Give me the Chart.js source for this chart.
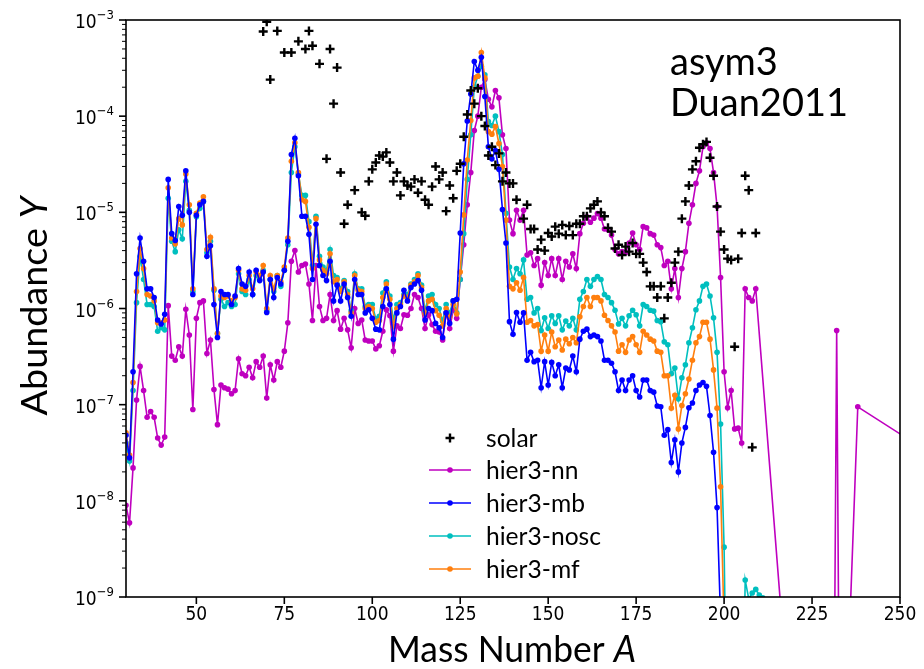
<!DOCTYPE html>
<html>
<head>
<meta charset="utf-8">
<title>asym3 Duan2011</title>
<script src="https://cdn.jsdelivr.net/npm/chart.js@4.4.1/dist/chart.umd.min.js"></script>
<style>
	html, body { margin: 0; padding: 0; background: #fff; }
	#wrap { width: 924px; height: 669px; }
</style>
</head>
<body>
<div id="wrap"><canvas id="abundance" width="924" height="669"></canvas></div>
<script>

// Axis ranges and tick labels
const xMin = 30, xMax = 250;
const xTicks = [50, 75, 100, 125, 150, 175, 200, 225, 250];
const yMin = 1e-9, yMax = 1e-3;
const yTicks = [1e-9, 1e-8, 1e-7, 1e-6, 1e-5, 1e-4, 1e-3];
const yTickExps = ['\u22129', '\u22128', '\u22127', '\u22126', '\u22125', '\u22124', '\u22123'];
const yMinorSteps = [2, 3, 4, 5, 6, 7, 8, 9];

// Solar abundances (only the points that fall inside the plot)
const solarA = [69, 70, 71, 73, 75, 77, 79, 81, 82, 83,
	85, 87, 88, 89, 90, 91, 92, 93, 95, 97,
	98, 99, 100, 101, 102, 103, 104, 105, 106, 107,
	108, 109, 110, 111, 112, 113, 114, 115, 116, 117,
	118, 119, 120, 121, 122, 123, 124, 125, 126, 127,
	128, 129, 130, 131, 132, 133, 134, 135, 136, 137,
	138, 139, 140, 141, 143, 144, 145, 146, 147, 148,
	149, 150, 151, 152, 153, 154, 155, 156, 157, 158,
	159, 160, 161, 162, 163, 164, 165, 166, 167, 168,
	169, 170, 171, 172, 173, 174, 175, 176, 177, 178,
	179, 180, 181, 182, 183, 184, 185, 186, 187, 188,
	189, 190, 191, 192, 193, 194, 195, 196, 197, 198,
	199, 200, 201, 202, 203, 204, 205, 206, 207, 208,
	209];
const solarY = [7.6e-4, 9.6e-4, 2.4e-4, 7.7e-4, 4.6e-4, 4.6e-4, 6.0e-4, 5.0e-4, 7.7e-4, 5.4e-4,
	3.5e-4, 3.6e-5, 5.0e-4, 1.35e-4, 3.2e-4, 2.6e-5, 7.6e-6, 1.2e-5, 1.7e-5, 1.0e-5,
	9.2e-6, 2.1e-5, 2.8e-5, 3.3e-5, 3.9e-5, 3.8e-5, 4.2e-5, 3.3e-5, 2.1e-5, 2.6e-5,
	1.5e-5, 2.1e-5, 1.9e-5, 1.85e-5, 2.2e-5, 1.6e-5, 2.1e-5, 1.35e-5, 1.2e-5, 1.85e-5,
	3.0e-5, 2.2e-5, 2.6e-5, 1.03e-5, 1.9e-5, 1.4e-5, 2.7e-5, 3.2e-5, 6.1e-5, 1.04e-4,
	1.85e-4, 1.35e-4, 1.95e-4, 1.0e-4, 7.9e-5, 3.9e-5, 4.8e-5, 3.1e-5, 4.1e-5, 2.1e-5,
	2.6e-5, 2.0e-5, 2.0e-5, 1.35e-5, 8.6e-6, 1.2e-5, 6.7e-6, 6.7e-6, 4.1e-6, 5.2e-6,
	4.0e-6, 6.1e-6, 5.6e-6, 7.1e-6, 6.0e-6, 7.4e-6, 5.8e-6, 7.2e-6, 5.8e-6, 7.6e-6,
	7.6e-6, 9.1e-6, 9.1e-6, 1.1e-5, 1.2e-5, 1.3e-5, 1.0e-5, 9.1e-6, 6.9e-6, 6.3e-6,
	4.2e-6, 4.6e-6, 3.6e-6, 4.4e-6, 3.9e-6, 4.8e-6, 3.7e-6, 3.7e-6, 3.0e-6, 2.4e-6,
	1.7e-6, 1.7e-6, 1.3e-6, 1.7e-6, 7.9e-7, 1.3e-6, 1.85e-6, 3.0e-6, 3.9e-6, 8.6e-6,
	1.3e-5, 1.9e-5, 2.8e-5, 3.4e-5, 4.7e-5, 5.1e-5, 5.4e-5, 3.7e-5, 2.4e-5, 1.15e-5,
	6.3e-6, 4.1e-6, 3.3e-6, 3.2e-6, 4.0e-7, 3.3e-6, 6.1e-6, 2.4e-5, 1.7e-5, 3.6e-8,
	6.1e-6];

// hier3-nn, one value per mass number from A = 30
const nnStart = 30;
const nnY = [
	9.0e-9, 5.9e-9, 2.2e-8, 1.12e-7, 2.5e-7, 1.4e-7, 7.4e-8, 8.5e-8, 7.4e-8, 4.5e-8,
	3.8e-8, 4.6e-8, 1.07e-6, 3.2e-7, 2.9e-7, 4.0e-7, 3.2e-7, 9.8e-7, 5.3e-7, 8.9e-8,
	7.9e-7, 1.15e-6, 1.2e-6, 3.4e-7, 4.7e-7, 1.44e-7, 6.2e-8, 1.6e-7, 1.5e-7, 1.45e-7,
	1.3e-7, 1.4e-7, 3.0e-7, 2.1e-7, 2.0e-7, 2.45e-7, 1.9e-7, 2.8e-7, 2.45e-7, 3.2e-7,
	1.17e-7, 2.6e-7, 1.8e-7, 2.8e-7, 2.45e-7, 3.6e-7, 7.1e-7, 3.1e-6, 4.0e-6, 2.4e-6,
	2.8e-6, 2.9e-6, 1.8e-6, 7.5e-7, 2.8e-6, 1.05e-6, 7.5e-7, 7.9e-7, 1.4e-6, 7.5e-7,
	9.5e-7, 6.1e-7, 7.9e-7, 6.0e-7, 3.9e-7, 1.0e-6, 7.0e-7, 7.6e-7, 4.7e-7, 4.6e-7,
	4.6e-7, 3.8e-7, 4.1e-7, 5.8e-7, 9.7e-7, 8.4e-7, 3.6e-7, 6.6e-7, 6.2e-7, 8.6e-7,
	8.5e-7, 1.0e-6, 1.4e-6, 1.3e-6, 1.0e-6, 6.2e-7, 8.6e-7, 6.8e-7, 5.8e-7, 5.7e-7,
	4.7e-7, 9.0e-7, 6.2e-7, 9.7e-7, 7.9e-7, 2.0e-6, 4.6e-6, 1.2e-5, 2.6e-5, 7.1e-5,
	1.0e-4, 2.0e-4, 2.4e-4, 1.5e-4, 1.25e-4, 1.85e-4, 1.55e-4, 6.4e-5, 4.6e-5, 8.3e-6,
	6.0e-6, 1.05e-5, 8.3e-6, 1.05e-5, 3.6e-6, 3.8e-6, 2.8e-6, 3.3e-6, 1.75e-6, 3.0e-6,
	2.2e-6, 3.3e-6, 2.2e-6, 3.3e-6, 2.0e-6, 3.1e-6, 2.7e-6, 3.7e-6, 2.6e-6, 6.0e-6,
	7.7e-6, 9.0e-6, 7.9e-6, 8.7e-6, 9.7e-6, 8.7e-6, 6.7e-6, 6.6e-6, 5.8e-6, 4.1e-6,
	3.7e-6, 3.9e-6, 3.8e-6, 4.8e-6, 6.1e-6, 4.6e-6, 4.1e-6, 7.1e-6, 6.9e-6, 6.0e-6,
	5.8e-6, 4.6e-6, 4.3e-6, 2.8e-6, 3.1e-6, 1.6e-6, 2.6e-6, 1.3e-6, 2.6e-6, 3.9e-6,
	7.7e-6, 1.2e-5, 2.0e-5, 2.7e-5, 4.8e-5, 5.3e-5, 4.6e-5, 2.6e-5, 1.15e-5, 2.1e-6,
	2.2e-7, 9.3e-8, 1.4e-7, 5.6e-8, 5.7e-8, 4.0e-8, 1.6e-6, 1.3e-6, 1.2e-6, 1.6e-6
];
// hier3-nn heavy tail, sparse points (most of them far below the axis)
const nnTailA = [217, 231, 232, 233, 235, 238, 256];
const nnTailY = [3e-10, 2e-12, 5.9e-7, 2e-12, 1e-10, 9.5e-8, 3.6e-8];

// hier3-mb from A = 30
const mbStart = 30;
const mbY = [
	4.8e-8, 2.8e-8, 2.2e-7, 2.3e-6, 5.4e-6, 3.1e-6, 1.6e-6, 1.6e-6, 1.3e-6, 7.6e-7,
	6.9e-7, 8.7e-7, 2.2e-5, 6.0e-6, 5.1e-6, 1.15e-5, 9.3e-6, 2.7e-5, 1.0e-5, 1.4e-6,
	9.3e-6, 1.2e-5, 1.3e-5, 3.5e-6, 4.5e-6, 1.1e-6, 5.0e-7, 1.5e-6, 1.4e-6, 1.4e-6,
	1.1e-6, 1.35e-6, 2.6e-6, 1.8e-6, 1.7e-6, 2.4e-6, 1.4e-6, 2.5e-6, 1.95e-6, 2.4e-6,
	9.1e-7, 2.0e-6, 1.3e-6, 2.1e-6, 1.8e-6, 2.5e-6, 5.0e-6, 4.0e-5, 5.9e-5, 2.4e-5,
	9.1e-6, 9.1e-6, 5.9e-6, 2.0e-6, 7.5e-6, 2.8e-6, 2.2e-6, 1.95e-6, 3.1e-6, 1.2e-6,
	1.75e-6, 1.2e-6, 1.8e-6, 1.3e-6, 8.3e-7, 2.0e-6, 1.4e-6, 1.4e-6, 9.0e-7, 9.7e-7,
	7.9e-7, 6.1e-7, 6.0e-7, 1.05e-6, 1.6e-6, 1.1e-6, 4.8e-7, 9.0e-7, 1.05e-6, 1.55e-6,
	1.2e-6, 1.65e-6, 1.8e-6, 1.95e-6, 1.55e-6, 7.6e-7, 1.0e-6, 9.5e-7, 7.0e-7, 6.3e-7,
	5.0e-7, 9.0e-7, 7.0e-7, 1.2e-6, 1.25e-6, 6.1e-6, 3.2e-5, 8.9e-5, 1.7e-4, 3.7e-4,
	3.0e-4, 4.1e-4, 1.6e-4, 4.8e-5, 3.6e-5, 4.4e-5, 2.8e-5, 1.07e-5, 4.8e-6, 7.3e-7,
	5.4e-7, 9.1e-7, 7.2e-7, 9.0e-7, 2.9e-7, 3.5e-7, 2.8e-7, 2.9e-7, 1.5e-7, 2.8e-7,
	1.6e-7, 2.75e-7, 2.0e-7, 2.6e-7, 1.5e-7, 2.4e-7, 2.3e-7, 3.2e-7, 2.2e-7, 4.8e-7,
	5.8e-7, 6.1e-7, 5.1e-7, 5.3e-7, 5.1e-7, 4.6e-7, 2.9e-7, 2.9e-7, 2.7e-7, 2.2e-7,
	1.4e-7, 1.8e-7, 1.4e-7, 1.8e-7, 2.0e-7, 1.4e-7, 1.2e-7, 1.8e-7, 1.8e-7, 1.4e-7,
	1.35e-7, 9.7e-8, 9.5e-8, 4.8e-8, 5.5e-8, 2.5e-8, 4.3e-8, 2.0e-8, 4.0e-8, 5.8e-8,
	9.3e-8, 1.04e-7, 1.4e-7, 1.6e-7, 1.7e-7, 1.55e-7, 7.7e-8, 3.2e-8, 8.5e-9, 6e-10
];

// hier3-nosc from A = 30
const noscStart = 30;
const noscY = [
	4.0e-8, 2.6e-8, 1.4e-7, 1.15e-6, 3.5e-6, 2.0e-6, 1.1e-6, 1.1e-6, 1.05e-6, 5.8e-7,
	6.3e-7, 6.0e-7, 1.4e-5, 5.0e-6, 3.9e-6, 6.6e-6, 5.3e-6, 2.1e-5, 1.05e-5, 1.5e-6,
	9.0e-6, 1.1e-5, 1.3e-5, 3.8e-6, 5.0e-6, 1.55e-6, 5.5e-7, 1.25e-6, 1.05e-6, 1.15e-6,
	1.05e-6, 1.1e-6, 2.3e-6, 1.5e-6, 1.4e-6, 2.0e-6, 1.4e-6, 2.2e-6, 2.0e-6, 2.5e-6,
	9.5e-7, 2.0e-6, 1.5e-6, 2.2e-6, 1.7e-6, 2.5e-6, 4.6e-6, 2.6e-5, 4.8e-5, 2.5e-5,
	1.5e-5, 1.5e-5, 8.0e-6, 2.8e-6, 9.1e-6, 3.5e-6, 2.7e-6, 2.5e-6, 4.1e-6, 2.2e-6,
	2.1e-6, 1.6e-6, 1.95e-6, 1.5e-6, 9.5e-7, 2.3e-6, 1.6e-6, 1.6e-6, 1.05e-6, 1.1e-6,
	1.1e-6, 7.8e-7, 8.3e-7, 1.45e-6, 1.9e-6, 1.35e-6, 7.6e-7, 1.1e-6, 1.15e-6, 1.4e-6,
	1.4e-6, 1.8e-6, 2.0e-6, 2.3e-6, 1.75e-6, 9.5e-7, 1.35e-6, 1.4e-6, 1.1e-6, 1.0e-6,
	7.4e-7, 1.1e-6, 9.0e-7, 1.2e-6, 9.0e-7, 2.0e-6, 6.0e-6, 2.2e-5, 6.4e-5, 2.0e-4,
	2.6e-4, 3.3e-4, 2.7e-4, 8.8e-5, 8.0e-5, 1.0e-4, 6.9e-5, 4.0e-5, 9.8e-6, 2.7e-6,
	2.0e-6, 2.6e-6, 2.3e-6, 3.2e-6, 1.25e-6, 1.3e-6, 9.0e-7, 1.0e-6, 5.9e-7, 8.0e-7,
	6.2e-7, 8.4e-7, 7.0e-7, 8.4e-7, 6.0e-7, 7.4e-7, 6.6e-7, 7.9e-7, 6.0e-7, 1.25e-6,
	1.5e-6, 2.0e-6, 1.7e-6, 2.0e-6, 2.15e-6, 2.0e-6, 1.4e-6, 1.3e-6, 1.15e-6, 9.6e-7,
	6.9e-7, 7.9e-7, 6.6e-7, 8.4e-7, 9.6e-7, 8.6e-7, 6.6e-7, 1.1e-6, 1.05e-6, 9.6e-7,
	9.4e-7, 7.5e-7, 7.3e-7, 4.5e-7, 4.2e-7, 2.1e-7, 2.4e-7, 1.15e-7, 1.9e-7, 2.6e-7,
	4.4e-7, 6.3e-7, 9.7e-7, 1.2e-6, 1.7e-6, 1.8e-6, 1.35e-6, 8.0e-7, 3.5e-7, 6.3e-8,
	3.3e-9, 1e-11, 1e-11, 1e-11, 1e-11, 1e-11, 1.5e-9, 9.6e-10, 1.1e-9, 1.2e-9,
	1.05e-9, 9.8e-10, 9e-10, 1e-11
];

// hier3-mf from A = 30
const mfStart = 30;
const mfY = [
	5.1e-8, 3.0e-8, 1.7e-7, 1.5e-6, 4.2e-6, 2.6e-6, 1.4e-6, 1.35e-6, 1.2e-6, 7.1e-7,
	7.1e-7, 7.6e-7, 1.8e-5, 5.4e-6, 4.7e-6, 8.6e-6, 7.4e-6, 2.5e-5, 1.2e-5, 1.6e-6,
	9.8e-6, 1.25e-5, 1.45e-5, 4.1e-6, 5.5e-6, 1.6e-6, 5.5e-7, 1.35e-6, 1.3e-6, 1.35e-6,
	1.2e-6, 1.3e-6, 2.5e-6, 1.6e-6, 1.55e-6, 2.2e-6, 1.6e-6, 2.4e-6, 2.2e-6, 2.8e-6,
	1.0e-6, 2.2e-6, 1.6e-6, 2.2e-6, 1.9e-6, 2.7e-6, 5.4e-6, 3.4e-5, 5.3e-5, 2.6e-5,
	1.35e-5, 1.3e-5, 7.0e-6, 2.6e-6, 8.6e-6, 3.2e-6, 2.5e-6, 2.3e-6, 3.7e-6, 1.9e-6,
	2.0e-6, 1.5e-6, 1.9e-6, 1.4e-6, 9.0e-7, 2.2e-6, 1.55e-6, 1.5e-6, 1.0e-6, 1.05e-6,
	1.0e-6, 7.2e-7, 7.5e-7, 1.3e-6, 1.8e-6, 1.25e-6, 6.5e-7, 1.0e-6, 1.1e-6, 1.35e-6,
	1.3e-6, 1.75e-6, 1.9e-6, 2.2e-6, 1.65e-6, 8.8e-7, 1.2e-6, 1.25e-6, 9.5e-7, 8.5e-7,
	6.6e-7, 1.0e-6, 8.2e-7, 1.1e-6, 8.8e-7, 2.4e-6, 9.4e-6, 3.5e-5, 9.0e-5, 2.5e-4,
	2.6e-4, 4.6e-4, 2.5e-4, 6.9e-5, 6.5e-5, 7.8e-5, 5.2e-5, 3.0e-5, 8.3e-6, 1.7e-6,
	1.6e-6, 1.85e-6, 1.55e-6, 2.1e-6, 7.2e-7, 7.5e-7, 6.6e-7, 6.8e-7, 3.6e-7, 5.3e-7,
	3.6e-7, 5.7e-7, 4.0e-7, 4.7e-7, 3.7e-7, 4.8e-7, 4.3e-7, 5.0e-7, 4.4e-7, 8.2e-7,
	1.05e-6, 1.3e-6, 1.05e-6, 1.3e-6, 1.3e-6, 1.2e-6, 8.5e-7, 7.5e-7, 6.6e-7, 5.7e-7,
	3.6e-7, 4.2e-7, 3.5e-7, 4.7e-7, 5.1e-7, 4.2e-7, 3.5e-7, 5.8e-7, 5.3e-7, 4.8e-7,
	4.6e-7, 3.6e-7, 3.5e-7, 2.0e-7, 2.0e-7, 9.2e-8, 1.25e-7, 5.6e-8, 9.8e-8, 1.3e-7,
	1.85e-7, 2.9e-7, 4.4e-7, 5.1e-7, 7.2e-7, 7.2e-7, 4.8e-7, 2.3e-7, 9.2e-8, 1.4e-8,
	5e-10
];


function toPoints(start, values) {
	return values.map((v, i) => ({ x: start + i, y: v }));
}

function pairPoints(xs, ys) {
	return xs.map((x, i) => ({ x: x, y: ys[i] }));
}

function lineSeries(label, color, points, order) {
	return {
		label: label,
		data: points,
		order: order,
		showLine: true,
		borderColor: color,
		backgroundColor: color,
		borderWidth: 1.6,
		pointRadius: 2.8,
		pointBorderWidth: 0,
		pointBackgroundColor: color,
		pointHoverRadius: 2.8
	};
}

// Text helper: draws pieces of text (different fonts) squeezed to a given width
function drawText(ctx, parts, x, y, opts) {
	const o = Object.assign({ align: 'center', rotate: false, width: null, sx: 1, baseline: 'alphabetic' }, opts);
	ctx.save();
	let total = 0;
	for (const p of parts) {
		ctx.font = p.font;
		p.w = ctx.measureText(p.text).width;
		total += p.w;
	}
	const sx = o.width ? o.width / total : o.sx;
	ctx.translate(x, y);
	if (o.rotate) ctx.rotate(-Math.PI / 2);
	ctx.scale(sx, 1);
	ctx.textBaseline = o.baseline;
	ctx.textAlign = 'left';
	let cx = o.align === 'center' ? -total / 2 : (o.align === 'right' ? -total : 0);
	for (const p of parts) {
		ctx.font = p.font;
		ctx.fillText(p.text, cx, p.dy || 0);
		cx += p.w;
	}
	ctx.restore();
	return sx;
}

const tickFont = '"DejaVu Sans", sans-serif';
const textFont = 'Lato, "Open Sans", sans-serif';

const decorPlugin = {
	id: 'decor',
	afterDraw(chart) {
		const { ctx, chartArea: area } = chart;
		const xs = chart.scales.x, ys = chart.scales.y;
		ctx.save();
		ctx.strokeStyle = '#000';
		ctx.fillStyle = '#000';

		// minor ticks of the log axis
		ctx.lineWidth = 1;
		for (const decade of yTicks) {
			for (const m of yMinorSteps) {
				const v = decade * m;
				if (v > yMax) continue;
				const py = ys.getPixelForValue(v);
				ctx.beginPath();
				ctx.moveTo(area.left - 4, py);
				ctx.lineTo(area.left, py);
				ctx.stroke();
			}
		}

		// major ticks
		ctx.lineWidth = 1.6;
		for (const v of yTicks) {
			const py = ys.getPixelForValue(v);
			ctx.beginPath();
			ctx.moveTo(area.left - 7, py);
			ctx.lineTo(area.left, py);
			ctx.stroke();
		}
		for (const v of xTicks) {
			const px = xs.getPixelForValue(v);
			ctx.beginPath();
			ctx.moveTo(px, area.bottom);
			ctx.lineTo(px, area.bottom + 7);
			ctx.stroke();
		}

		// axes frame
		ctx.lineWidth = 1.6;
		ctx.strokeRect(area.left, area.top, area.right - area.left, area.bottom - area.top);

		// tick labels
		xTicks.forEach(v => {
			drawText(ctx, [{ text: String(v), font: '19px ' + tickFont }],
				xs.getPixelForValue(v), area.bottom + 9, { sx: 0.9, baseline: 'top' });
		});
		yTicks.forEach((v, i) => {
			const py = ys.getPixelForValue(v);
			drawText(ctx, [
				{ text: '10', font: '19px ' + tickFont, dy: 8 },
				{ text: yTickExps[i], font: '13px ' + tickFont, dy: -1 }
			], area.left - 12, py, { align: 'right', sx: 0.9 });
		});

		// axis titles
		drawText(ctx, [
			{ text: 'Mass Number ', font: '36px ' + textFont },
			{ text: 'A', font: 'italic 36px ' + textFont }
		], 512, 662, { width: 248 });
		drawText(ctx, [
			{ text: 'Abundance ', font: '36px ' + textFont },
			{ text: 'Y', font: 'italic 36px ' + textFont }
		], 47, 306, { rotate: true, width: 219 });

		// annotation, both lines share one horizontal scale
		const annScale = drawText(ctx, [{ text: 'Duan2011', font: '39px ' + textFont }], 670, 116, { align: 'left', width: 178 });
		drawText(ctx, [{ text: 'asym3', font: '39px ' + textFont }], 670, 75, { align: 'left', sx: annScale });

		// legend
		const rows = [438, 470, 503, 536, 569];
		ctx.font = '25px ' + textFont;
		const legendScale = 115 / ctx.measureText('hier3-nosc').width;
		chart.data.datasets.forEach((ds, i) => {
			const ry = rows[i];
			const cx = 450;
			if (ds.showLine) {
				ctx.strokeStyle = ds.borderColor;
				ctx.lineWidth = ds.borderWidth;
				ctx.beginPath();
				ctx.moveTo(cx - 21, ry);
				ctx.lineTo(cx + 21, ry);
				ctx.stroke();
				ctx.fillStyle = ds.borderColor;
				ctx.beginPath();
				ctx.arc(cx, ry, ds.pointRadius, 0, Math.PI * 2);
				ctx.fill();
			} else {
				ctx.strokeStyle = '#000';
				ctx.lineWidth = ds.pointBorderWidth;
				ctx.beginPath();
				ctx.moveTo(cx - ds.pointRadius, ry);
				ctx.lineTo(cx + ds.pointRadius, ry);
				ctx.moveTo(cx, ry - ds.pointRadius);
				ctx.lineTo(cx, ry + ds.pointRadius);
				ctx.stroke();
			}
			ctx.fillStyle = '#000';
			drawText(ctx, [{ text: ds.label, font: '25px ' + textFont }], 486, ry + 1,
				{ align: 'left', sx: legendScale, baseline: 'middle' });
		});

		ctx.restore();
	}
};

const datasets = [
	{
		label: 'solar',
		data: pairPoints(solarA, solarY),
		order: 0,
		showLine: false,
		pointStyle: 'cross',
		pointRadius: 4.5,
		pointHoverRadius: 4.5,
		pointBorderWidth: 2.4,
		borderColor: '#000',
		backgroundColor: '#000'
	},
	lineSeries('hier3-nn', '#bf00bf', toPoints(nnStart, nnY).concat(pairPoints(nnTailA, nnTailY)), 4),
	lineSeries('hier3-mb', '#0000ff', toPoints(mbStart, mbY), 1),
	lineSeries('hier3-nosc', '#00bfbf', toPoints(noscStart, noscY), 3),
	lineSeries('hier3-mf', '#ff7f0e', toPoints(mfStart, mfY), 2)
];

new Chart(document.getElementById('abundance'), {
	type: 'scatter',
	data: { datasets: datasets },
	options: {
		responsive: false,
		devicePixelRatio: 1,
		animation: false,
		events: [],
		layout: { padding: { left: 0, right: 24, top: 20, bottom: 0 } },
		plugins: {
			legend: { display: false },
			tooltip: { enabled: false }
		},
		scales: {
			x: {
				type: 'linear',
				min: xMin,
				max: xMax,
				afterBuildTicks: s => { s.ticks = xTicks.map(v => ({ value: v })); },
				afterFit: s => { s.height = 72; },
				ticks: { display: false },
				grid: { display: false },
				border: { display: false }
			},
			y: {
				type: 'logarithmic',
				min: yMin,
				max: yMax,
				afterBuildTicks: s => { s.ticks = yTicks.map(v => ({ value: v })); },
				afterFit: s => { s.width = 126; },
				ticks: { display: false },
				grid: { display: false },
				border: { display: false }
			}
		}
	},
	plugins: [decorPlugin]
});
</script>
</body>
</html>
